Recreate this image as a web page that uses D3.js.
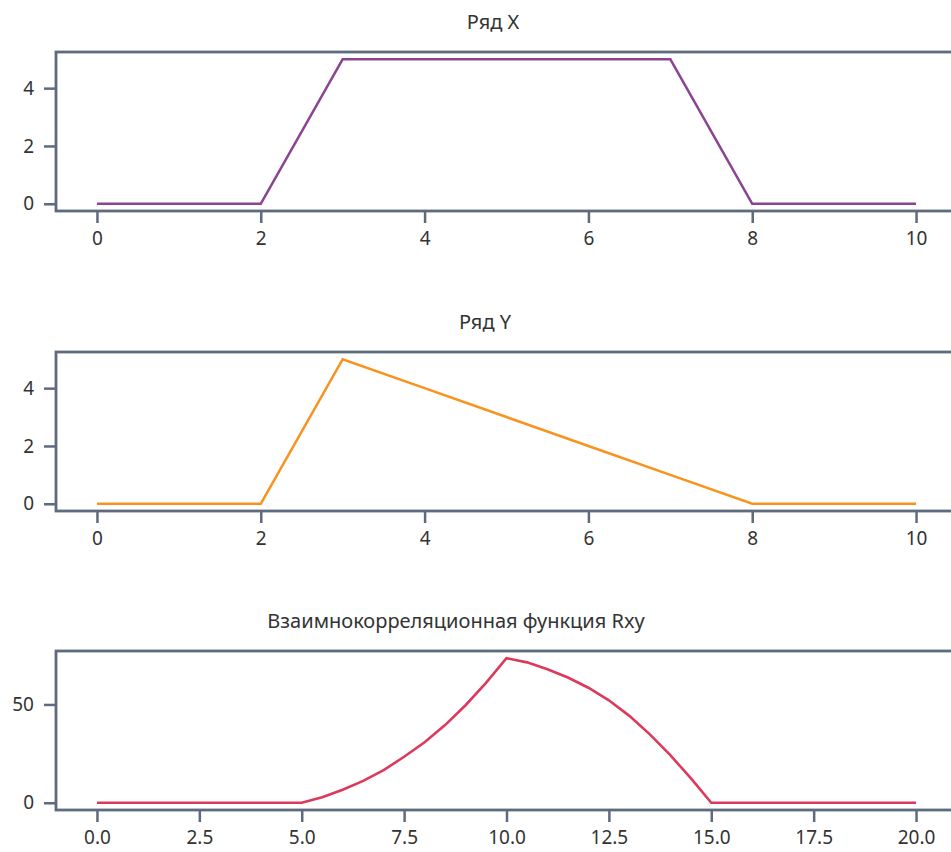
<!DOCTYPE html>
<html><head><meta charset="utf-8">
<script src="https://cdn.jsdelivr.net/npm/d3@7"></script>
<style>
html,body{margin:0;padding:0;background:#fff;}
svg{display:block;}
text{font-family:"Noto Sans",sans-serif;}
</style></head>
<body>
<svg id="chart" width="951" height="852"></svg>
<script>
// ---- data ----
const xSeriesT = [0,1,2,3,4,5,6,7,8,9,10];
const xSeriesV = [0,0,0,5,5,5,5,5,0,0,0];
const ySeriesT = [0,1,2,3,4,5,6,7,8,9,10];
const ySeriesV = [0,0,0,5,4,3,2,1,0,0,0];
const rxyT = [0,1,2,3,4,5,5.5,6,6.5,7,7.5,8,8.5,9,9.5,10,10.5,11,11.5,12,12.5,13,13.5,14,14.5,15,16,17,18,19,20];
const rxyV = [0,0,0,0,0,0,2.8,6.6,11.1,16.6,23.4,30.8,39.5,49.6,61.0,73.5,71.4,67.9,63.7,58.5,52.1,44.2,34.8,24.2,12.5,0,0,0,0,0,0];
const ticks12 = [0,2,4,6,8,10];
const yTicks12 = [0,2,4];
const ticks3 = [0,2.5,5,7.5,10,12.5,15,17.5,20];
const yTicks3 = [0,50];
const titles = ["Ряд X","Ряд Y","Взаимнокорреляционная функция Rxy"];

const frame = "#5e6a7d";
const svg = d3.select("#chart");

const panels = [
  {t:xSeriesT, v:xSeriesV, top:52, bottom:211, xd:[-0.5,10.5], yd:[-0.25,5.25], xt:ticks12, yt:yTicks12, fmt:d3.format("d"), color:"#8c4392", title:titles[0], tx:493, ty:29},
  {t:ySeriesT, v:ySeriesV, top:352, bottom:511, xd:[-0.5,10.5], yd:[-0.25,5.25], xt:ticks12, yt:yTicks12, fmt:d3.format("d"), color:"#f7931e", title:titles[1], tx:485, ty:329},
  {t:rxyT, v:rxyV, top:651, bottom:810, xd:[-1,21], yd:[-3.675,77.175], xt:ticks3, yt:yTicks3, fmt:d3.format(".1f"), color:"#dc3a5c", title:titles[2], tx:456, ty:628}
];

const left = 56, right = 957;

panels.forEach(p => {
  const x = d3.scaleLinear().domain(p.xd).range([left, right]);
  const y = d3.scaleLinear().domain(p.yd).range([p.bottom, p.top]);
  const g = svg.append("g");

  const xa = g.append("g").attr("transform", `translate(0,${p.bottom})`)
    .call(d3.axisBottom(x).tickValues(p.xt).tickFormat(p.fmt).tickSize(12).tickSizeOuter(0).tickPadding(9));
  const ya = g.append("g").attr("transform", `translate(${left},0)`)
    .call(d3.axisLeft(y).tickValues(p.yt).tickFormat(d3.format("d")).tickSize(12).tickSizeOuter(0).tickPadding(10));
  [xa, ya].forEach(a => {
    a.select(".domain").remove();
    a.selectAll(".tick line").attr("stroke", frame).attr("stroke-width", 2.5);
    a.selectAll(".tick text").attr("fill", "#333").style("font-size", "19px");
  });

  g.append("rect").attr("x", left).attr("y", p.top)
    .attr("width", right - left).attr("height", p.bottom - p.top)
    .attr("fill", "none").attr("stroke", frame).attr("stroke-width", 2.8);

  const line = d3.line().x((d,i) => x(p.t[i])).y(d => y(d));
  g.append("path").datum(p.v).attr("d", line)
    .attr("fill", "none").attr("stroke", p.color).attr("stroke-width", 2.6)
    .attr("stroke-linejoin", "miter");

  g.append("text").attr("x", p.tx).attr("y", p.ty).attr("text-anchor", "middle")
    .attr("fill", "#333").style("font-size", "20px").text(p.title);
});
</script>
</body></html>
